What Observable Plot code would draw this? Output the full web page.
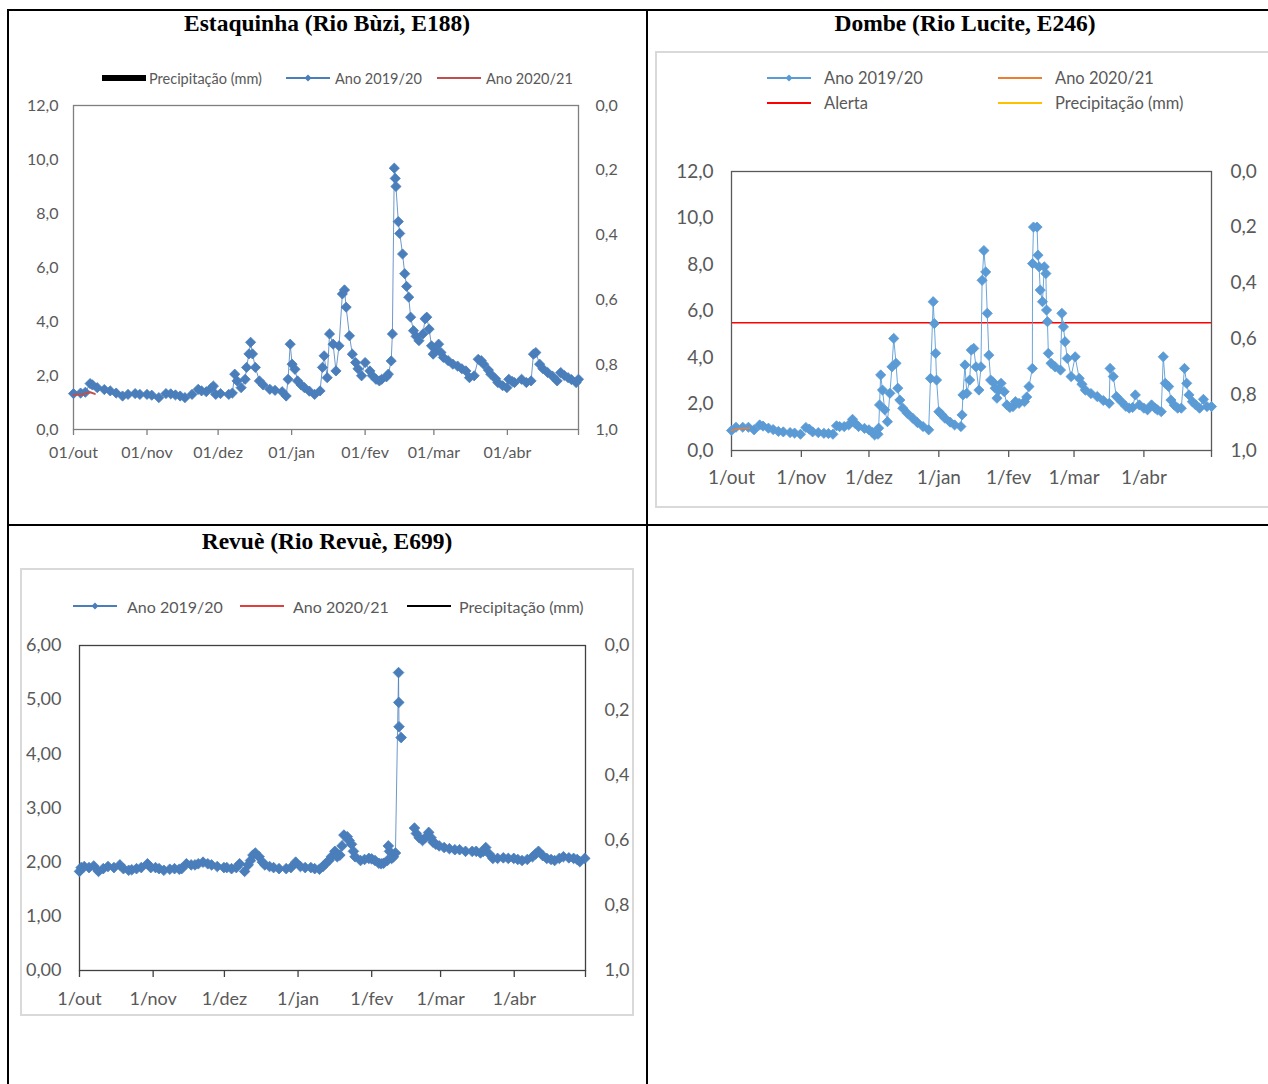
<!DOCTYPE html>
<html>
<head>
<meta charset="utf-8">
<script src="https://cdn.jsdelivr.net/npm/d3@7"></script>
<script src="https://cdn.jsdelivr.net/npm/@observablehq/plot@0.6"></script>
<style>
  html, body { margin: 0; padding: 0; background: #fff; }
  body { width: 1268px; height: 1084px; position: relative; overflow: hidden; }
  .abs { position: absolute; }
  .rule { position: absolute; background: #000; }
  .title { position: absolute; font-family: "Liberation Serif", "Times New Roman", serif; font-weight: bold; font-size: 23.5px; color: #000; text-align: center; white-space: nowrap; }
  .leg { position: absolute; display: flex; align-items: center; font-family: Lato, "Noto Sans", sans-serif; color: #595959; white-space: nowrap; }
  .cframe { position: absolute; border: 2px solid #d9d9d9; box-sizing: border-box; }
</style>
</head>
<body>
<script>
// ---------- shared axis data ----------
const monthDays = [0, 31, 61, 92, 123, 152, 183, 213];
const monthLabelsE188 = ["01/out", "01/nov", "01/dez", "01/jan", "01/fev", "01/mar", "01/abr", ""];
const monthLabelsShort = ["1/out", "1/nov", "1/dez", "1/jan", "1/fev", "1/mar", "1/abr", ""];
const leftTicks12 = [0, 2, 4, 6, 8, 10, 12];
const leftTicks6 = [0, 1, 2, 3, 4, 5, 6];
const precipTicks = [0, 0.2, 0.4, 0.6, 0.8, 1.0];

// ---------- Estaquinha (E188) ----------
const e188Day = [0,3,5,7,8,10,13,15.5,18,20.7,23,26,28,31,33,36,39,41,43,45,47,50,52.6,54,56,58,59,60,62,65.5,67,68,69,70.7,72.4,73,74,74.7,75.5,76.7,78.4,80,82.8,85,88,89.7,90.5,91.4,92.2,93.4,94.5,96,97.4,99.5,101.7,104,105,105.7,107,108,109.5,110.7,112,113.4,114.3,115,116.4,117.6,119,120,121.5,123,125,126,127.6,129,130,132,132.8,134,134.5,135.3,135.7,136,137,137.6,138.8,139.7,140.5,141.4,142.2,143.4,144.5,145.7,147.4,148.3,149,150,151,151.7,152.8,154,155,156,158,160,162,163.8,165.5,167,169,170.7,172,173,175,176,178,179,181,182.8,183.6,185,186,189,191,193,194,195,196.6,198,200,202,204,205.5,207,208.6,210,212,213];
const e188Level = [1.33,1.35,1.38,1.70,1.65,1.55,1.48,1.43,1.35,1.24,1.30,1.33,1.30,1.30,1.27,1.18,1.33,1.32,1.28,1.24,1.18,1.30,1.49,1.43,1.40,1.52,1.61,1.30,1.33,1.30,1.35,2.05,1.80,1.55,1.86,2.30,2.80,3.23,2.80,2.30,1.80,1.65,1.49,1.45,1.40,1.24,1.86,3.16,2.42,2.23,1.80,1.65,1.55,1.42,1.30,1.43,2.30,2.73,1.92,3.54,3.16,2.17,3.10,5.02,5.17,4.53,3.47,2.79,2.48,2.25,1.99,2.48,2.17,2.00,1.86,1.80,1.86,1.95,2.05,2.54,3.54,9.68,9.30,9.00,7.70,7.26,6.50,5.77,5.30,4.90,4.16,3.66,3.45,3.29,3.54,4.10,4.16,3.72,3.10,2.79,2.90,3.16,2.85,2.67,2.55,2.42,2.35,2.25,2.17,1.92,1.99,2.60,2.55,2.42,2.20,2.05,1.88,1.74,1.62,1.55,1.86,1.78,1.74,1.86,1.74,1.80,2.79,2.85,2.42,2.25,2.11,1.98,1.80,2.11,2.00,1.92,1.85,1.74,1.86];
const e188Day2021 = [0, 2, 4, 6, 7, 9];
const e188Level2021 = [1.28, 1.30, 1.30, 1.36, 1.38, 1.32];

// ---------- Dombe (E246) ----------
const e246Day = [0,2,5,7.5,10,12.5,14,16.4,18.5,20.8,23,26,28,30.6,33,34.5,36,38.5,41,43,45,46.6,48,50,52,53.7,55,56.4,59,61,62.5,63.5,65,65.3,65.7,66.2,67,68,69.2,70.3,71.2,72,73,73.8,74.7,76,78,80.4,82.5,85,87.5,88.3,89.5,90,90.6,91,92,93.2,94.7,97,99,101.8,102.3,102.7,103.6,104.4,105.7,106.4,107.5,108.5,109.8,110.7,111.2,112,112.8,113.5,114.2,115,116,117,117.8,118.6,119.6,121,122.2,123.5,124.9,126,127.6,130,131,132,133.5,133.6,134,135.6,136,136.5,137,138,138.8,139.5,139.8,140.2,140.6,141.8,143.6,146,146.6,147.3,148,149,150.7,152.5,154.3,155.5,157,159.5,162.3,165,167.6,168,169.4,170.8,173,175,176.5,178,179.2,181,183,184.6,186.4,188,189,190.7,191.6,192.5,194,195,196.5,198,199.6,201,202,203,204.5,206,207.7,209.4,211,213];
const e246Level = [0.86,1.00,1.00,1.00,0.89,1.10,1.05,0.96,0.90,0.82,0.80,0.77,0.75,0.70,0.99,0.92,0.80,0.77,0.74,0.73,0.70,1.06,1.03,1.03,1.10,1.34,1.15,1.03,0.95,0.89,0.78,0.67,0.70,0.96,1.96,3.25,2.60,1.75,1.24,2.46,3.60,4.82,3.75,2.68,2.17,1.82,1.60,1.39,1.20,1.03,0.89,3.10,6.40,5.46,4.18,3.03,1.67,1.55,1.39,1.22,1.10,1.03,1.53,2.39,3.68,2.46,3.03,4.32,4.39,3.60,2.60,3.60,7.32,8.60,7.68,5.90,4.10,3.03,2.95,2.68,2.25,2.60,2.89,2.53,1.96,1.85,1.89,2.10,2.03,2.10,2.30,2.75,3.53,8.04,9.61,9.61,8.40,7.90,6.90,6.40,7.90,7.61,6.04,5.54,4.18,3.75,3.60,3.46,5.90,5.32,4.68,3.96,3.18,4.03,3.10,2.85,2.60,2.45,2.32,2.15,2.03,3.53,3.18,2.32,2.10,1.90,1.82,1.85,2.39,1.96,1.82,1.75,1.96,1.82,1.75,1.67,4.03,2.89,2.75,2.17,1.95,1.82,1.82,3.53,2.89,2.39,2.10,1.96,1.82,2.20,1.89,1.89];
const e246Day2021 = [0, 2, 4, 6, 8];
const e246Level2021 = [0.85, 0.93, 0.95, 0.95, 0.97];
const e246Alert = 5.5;

// ---------- Revuè (E699) ----------
const e699Day = [0,0.7,2,4,6,8,10,12,14.5,17,18.5,20.7,22,24,26,28.6,30,32,33.5,35.5,38,40,42,43,45,47,48.6,50,52,54,55.6,58,60.8,62,64,66,67.4,69.5,71,72,73,74,75.6,77,78,80,81.7,84,87,89,91,93,95,97.4,99,101,102.5,103.5,105,106,107.5,108.5,109.6,110.5,111.3,112.7,113.5,114.5,115.3,116,118.3,120,121.8,123,124.4,126,127,128,129.6,130,130.5,131.4,132.2,133,134.3,134.4,134.5,135.4,138,141,141.8,143,144.4,145.5,147,148,148.8,150,151.4,153.5,155.7,158,160,162.5,165.3,167,168.8,170,171,172.5,174,176,178.4,180.5,182.8,184.5,186.3,188.5,190.7,192,193.2,195,196.7,198.5,200,202,203.7,206,208,209.5,210.6,212.7];
const e699Level = [1.83,1.90,1.92,1.90,1.93,1.83,1.88,1.92,1.90,1.95,1.88,1.85,1.86,1.88,1.90,1.97,1.90,1.90,1.88,1.85,1.87,1.88,1.87,1.88,1.97,1.95,1.95,1.97,2.00,1.97,1.95,1.92,1.90,1.90,1.88,1.90,1.97,1.83,1.95,2.03,2.13,2.17,2.10,2.00,1.95,1.92,1.90,1.88,1.88,1.90,2.00,1.92,1.90,1.90,1.88,1.87,1.92,1.97,2.03,2.10,2.20,2.10,2.13,2.30,2.50,2.47,2.40,2.33,2.20,2.10,2.03,2.05,2.07,2.06,2.03,1.98,1.97,1.98,2.03,2.30,2.20,2.07,2.10,2.17,5.50,4.95,4.50,4.30,null,2.63,2.53,2.45,2.40,2.45,2.55,2.45,2.37,2.33,2.30,2.27,2.25,2.23,2.23,2.20,2.20,2.20,2.17,2.20,2.27,2.15,2.07,2.07,2.08,2.07,2.07,2.05,2.03,2.05,2.10,2.15,2.20,2.12,2.07,2.05,2.03,2.07,2.10,2.08,2.07,2.05,2.01,2.07];

// ---------- helpers ----------
const comma = (f) => (d) => d3.format(f)(d).replace(".", ",");
const rows = (days, vals) => days.map((d, i) => ({day: d, v: vals[i]}));

function el(tag, cls, css, text) {
  const e = document.createElement(tag);
  if (cls) e.className = cls;
  if (css) Object.assign(e.style, css);
  if (text != null) e.textContent = text;
  document.body.appendChild(e);
  return e;
}

function swatch(type, color) {
  const ns = "http://www.w3.org/2000/svg";
  const s = document.createElementNS(ns, "svg");
  s.setAttribute("width", 44); s.setAttribute("height", 12);
  s.style.flex = "none";
  if (type === "bar") {
    const r = document.createElementNS(ns, "rect");
    r.setAttribute("x", 0); r.setAttribute("y", 3); r.setAttribute("width", 44); r.setAttribute("height", 6);
    r.setAttribute("fill", color); s.appendChild(r);
  } else {
    const l = document.createElementNS(ns, "line");
    l.setAttribute("x1", 0); l.setAttribute("x2", 44); l.setAttribute("y1", 6); l.setAttribute("y2", 6);
    l.setAttribute("stroke", color); l.setAttribute("stroke-width", 2); s.appendChild(l);
    if (type === "marker") {
      const p = document.createElementNS(ns, "path");
      p.setAttribute("d", "M22,2.5L25.5,6L22,9.5L18.5,6Z");
      p.setAttribute("fill", color); s.appendChild(p);
    }
  }
  return s;
}

function legend(x, y, type, color, label, fontSize, gap) {
  const d = el("div", "leg", {left: x + "px", top: (y - 10) + "px", height: "20px", fontSize: fontSize + "px"});
  d.appendChild(swatch(type, color));
  const t = document.createElement("span");
  t.textContent = label; t.style.marginLeft = gap + "px";
  d.appendChild(t);
}

function chart({left, top, width, height, mt, mr, mb, ml, ymax, leftTicks, leftFmt, labels, fontSize,
                tickSize, tickPad, yPad, rPad, frameColor, series, extra}) {
  const marks = [
    ...(extra || []),
    Plot.frame({stroke: frameColor, strokeWidth: 1.3}),
    Plot.axisY({anchor: "left", ticks: leftTicks, tickSize: 0, tickPadding: yPad, tickFormat: leftFmt, label: null}),
    Plot.axisY({anchor: "right", ticks: precipTicks.map(p => ymax * (1 - p)), tickSize: 0, tickPadding: rPad,
                tickFormat: d => comma(".1f")(1 - d / ymax), label: null}),
    Plot.axisX({ticks: monthDays, tickSize: tickSize, tickPadding: tickPad, label: null,
                tickFormat: d => labels[monthDays.indexOf(d)], stroke: frameColor, strokeWidth: 1.3})
  ];
  for (const s of series) {
    const data = rows(s.days, s.vals);
    marks.push(Plot.line(data, {x: "day", y: "v", stroke: s.color, strokeWidth: s.width || 1, strokeOpacity: s.opacity || 1}));
    if (s.dots) marks.push(Plot.dot(data, {x: "day", y: "v", symbol: "diamond2", r: s.r || 3.2, fill: s.color, stroke: s.color, strokeWidth: 0.8}));
  }
  const svg = Plot.plot({
    width, height, marginTop: mt, marginRight: mr, marginBottom: mb, marginLeft: ml,
    x: {type: "linear", domain: [0, 213], range: [ml, width - mr]},
    y: {type: "linear", domain: [0, ymax]},
    style: {fontFamily: "Lato, 'Noto Sans', sans-serif", fontSize: fontSize + "px", color: "#595959", background: "transparent", overflow: "visible"},
    marks
  });
  const wrap = el("div", "abs", {left: left + "px", top: top + "px"});
  wrap.appendChild(svg);
}

// ---------- table rules ----------
el("div", "rule", {left: "8px", top: "9px", width: "1260px", height: "2px"});
el("div", "rule", {left: "8px", top: "524px", width: "1260px", height: "2px"});
el("div", "rule", {left: "7px", top: "9px", width: "2px", height: "1075px"});
el("div", "rule", {left: "646px", top: "9px", width: "2px", height: "1075px"});

// ---------- titles ----------
el("div", "title", {left: "8px", width: "638px", top: "10px"}, "Estaquinha (Rio Bùzi, E188)");
el("div", "title", {left: "648px", width: "634px", top: "10px"}, "Dombe (Rio Lucite, E246)");
el("div", "title", {left: "8px", width: "638px", top: "528px"}, "Revuè (Rio Revuè, E699)");

// ---------- chart frames ----------
el("div", "cframe", {left: "655px", top: "51px", width: "640px", height: "457px"});
el("div", "cframe", {left: "20px", top: "568px", width: "614px", height: "448px"});

// ---------- Chart 1: Estaquinha ----------
legend(102, 78, "bar", "#000000", "Precipitação (mm)", 14.5, 3);
legend(286, 78, "marker", "#4a7ebb", "Ano 2019/20", 14.5, 5);
legend(437, 78, "line", "#c0504d", "Ano 2020/21", 14.5, 5);
chart({
  left: 20, top: 95, width: 620, height: 380, mt: 10, ml: 53, mr: 62, mb: 46,
  ymax: 12, leftTicks: leftTicks12, leftFmt: comma(".1f"), labels: monthLabelsE188, fontSize: 16,
  tickSize: 6, tickPad: 11, yPad: 15, rPad: 17, frameColor: "#7f7f7f",
  series: [
    {days: e188Day, vals: e188Level, color: "#4a7ebb", dots: true, opacity: 0.8, r: 4.6},
    {days: e188Day2021, vals: e188Level2021, color: "#c0504d", width: 2}
  ]
});

// ---------- Chart 2: Dombe ----------
legend(767, 78, "marker", "#5b9bd5", "Ano 2019/20", 16.5, 13);
legend(998, 78, "line", "#ed7d31", "Ano 2020/21", 16.5, 13);
legend(767, 103, "line", "#ff0000", "Alerta", 16.5, 13);
legend(998, 103, "line", "#ffc000", "Precipitação (mm)", 16.5, 13);
chart({
  left: 660, top: 160, width: 608, height: 330, mt: 11, ml: 71, mr: 57, mb: 40,
  ymax: 12, leftTicks: leftTicks12, leftFmt: comma(".1f"), labels: monthLabelsShort, fontSize: 19,
  tickSize: 7, tickPad: 13, yPad: 18, rPad: 19, frameColor: "#595959",
  extra: [Plot.ruleY([e246Alert], {stroke: "#ff0000", strokeWidth: 1.5})],
  series: [
    {days: e246Day, vals: e246Level, color: "#5b9bd5", dots: true, opacity: 0.9, r: 4.6},
    {days: e246Day2021, vals: e246Level2021, color: "#ed7d31", width: 1.5}
  ]
});

// ---------- Chart 3: Revuè ----------
legend(73, 606, "marker", "#4a7ebb", "Ano 2019/20", 16, 10);
legend(240, 606, "line", "#e0403c", "Ano 2020/21", 16, 9);
legend(407, 606, "line", "#000000", "Precipitação (mm)", 16, 8);
chart({
  left: 22, top: 635, width: 608, height: 380, mt: 10, ml: 57, mr: 45, mb: 45,
  ymax: 6, leftTicks: leftTicks6, leftFmt: comma(".2f"), labels: monthLabelsShort, fontSize: 18,
  tickSize: 7, tickPad: 15, yPad: 18, rPad: 19, frameColor: "#404040",
  series: [
    {days: e699Day, vals: e699Level, color: "#4a7ebb", dots: true, opacity: 0.8, r: 4.8}
  ]
});
</script>
</body>
</html>
